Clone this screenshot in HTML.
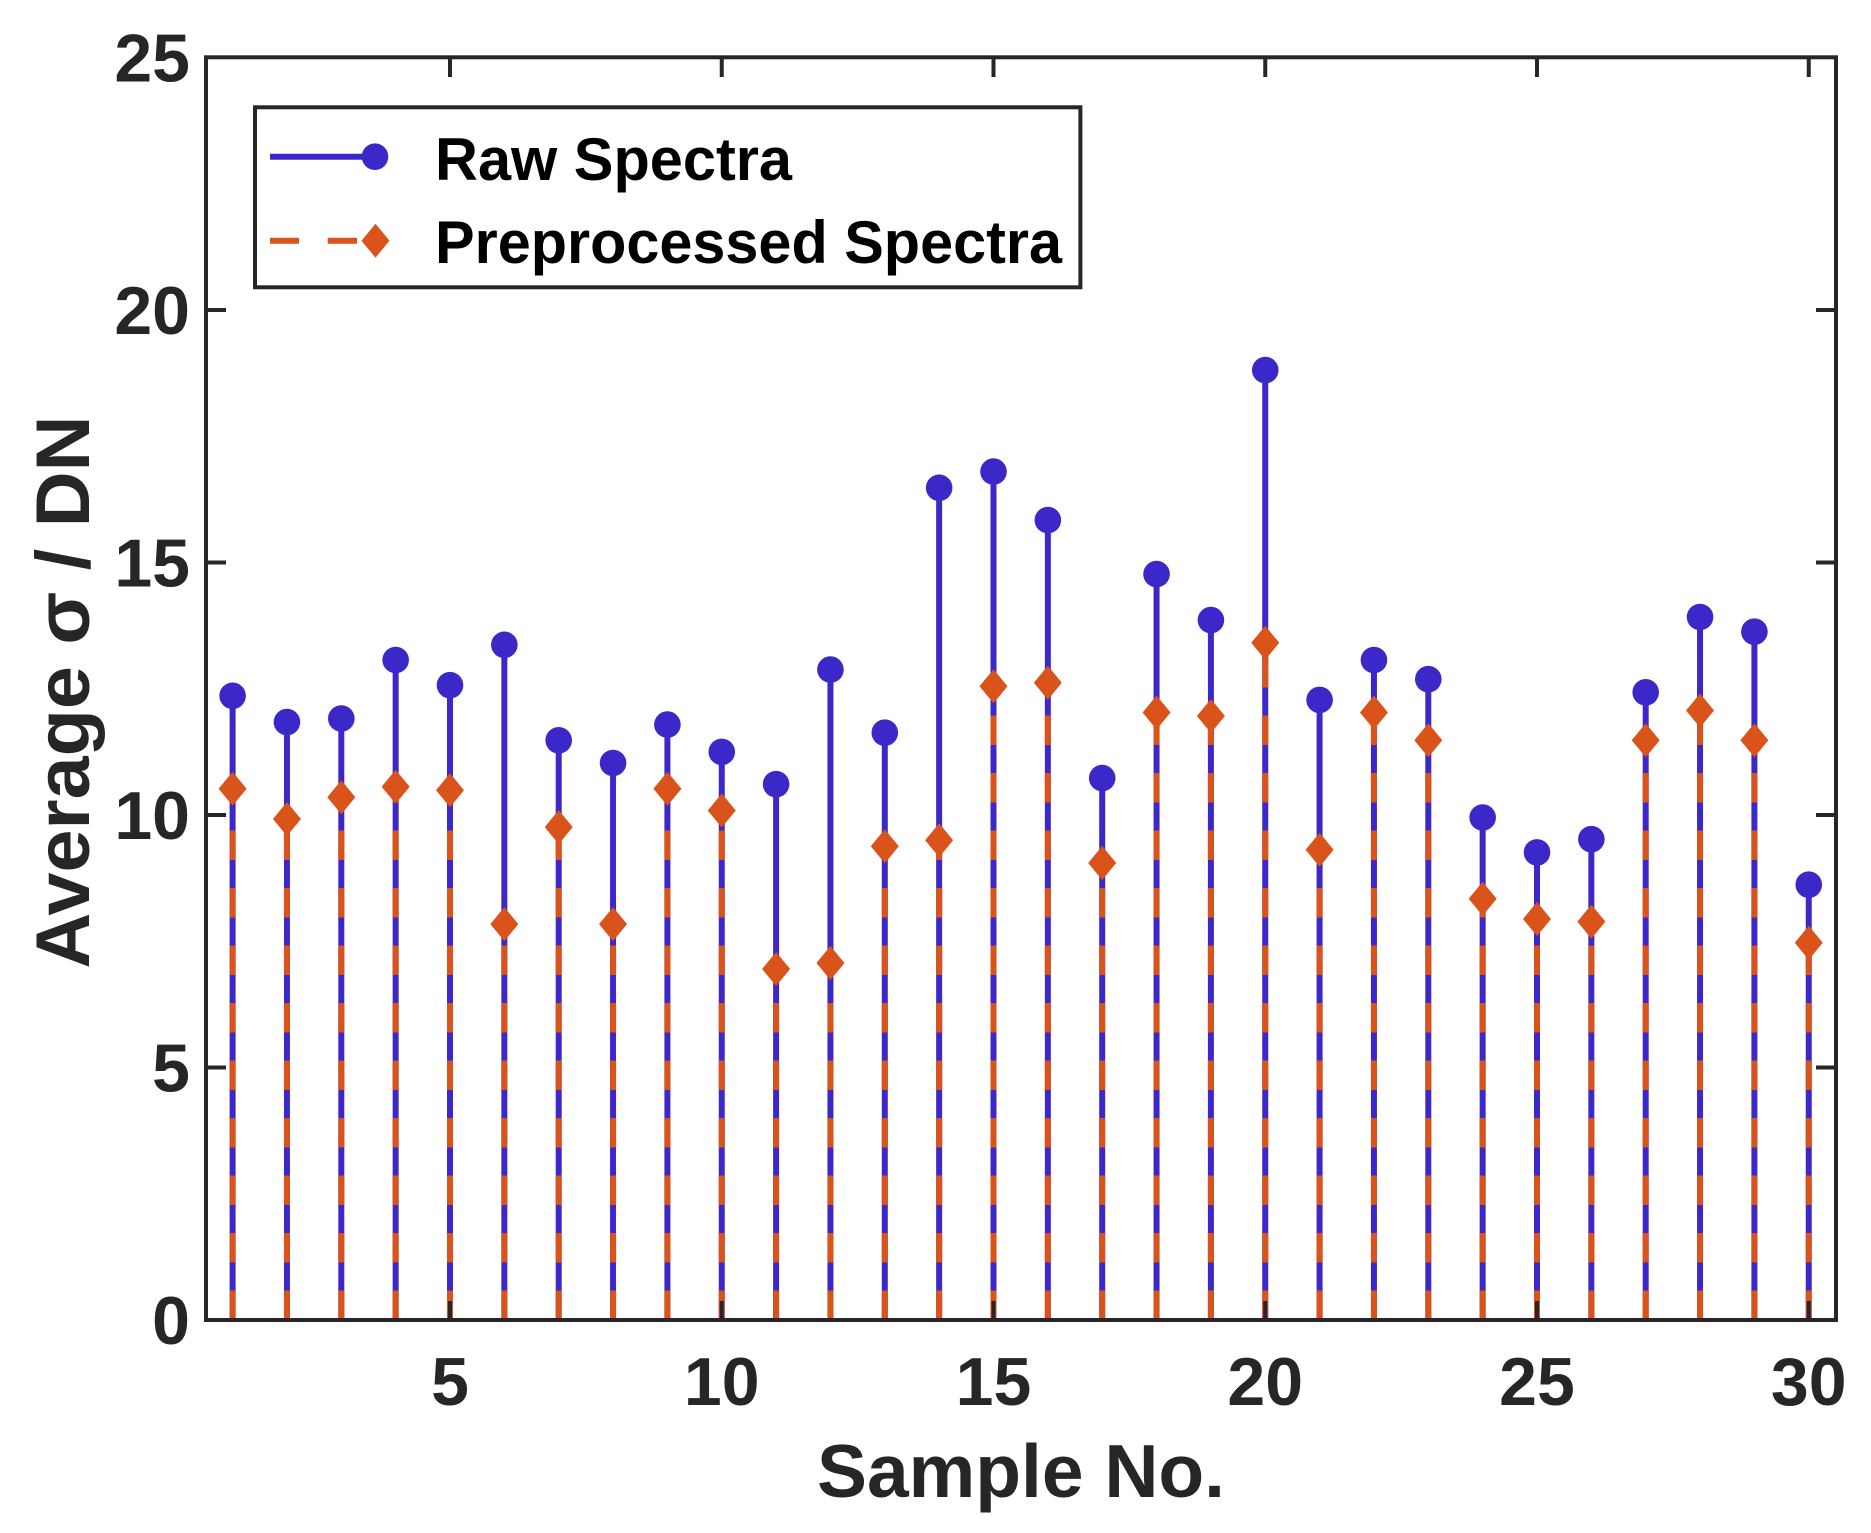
<!DOCTYPE html>
<html>
<head>
<meta charset="utf-8">
<style>
html,body{margin:0;padding:0;background:#fff;}
svg{display:block;}
text{font-family:"Liberation Sans",Arial,sans-serif;font-weight:bold;}
</style>
</head>
<body>
<svg width="1871" height="1533" viewBox="0 0 1871 1533" xmlns="http://www.w3.org/2000/svg">
<rect width="1871" height="1533" fill="#fff"/>

<!-- blue stems -->
<g stroke="#3C28C8" stroke-width="6" fill="none">
<path d="M232.6 1320V695.8M286.95 1320V722.1M341.3 1320V718.5M395.65 1320V660M450 1320V685.2M504.35 1320V644.8M558.7 1320V740.3M613.05 1320V763M667.4 1320V724.6M721.75 1320V751.9M776.1 1320V784.2M830.45 1320V669.6M884.8 1320V732.7M939.15 1320V487.8M993.5 1320V471.6M1047.85 1320V520.1M1102.2 1320V778.1M1156.55 1320V574.1M1210.9 1320V620.1M1265.25 1320V370.1M1319.6 1320V699.9M1373.95 1320V660M1428.3 1320V679.2M1482.65 1320V817.5M1537 1320V852.4M1591.35 1320V839.2M1645.7 1320V692.3M1700.05 1320V617M1754.4 1320V631.7M1808.75 1320V884.7"/>
</g>

<!-- orange dashed stems -->
<g stroke="#D9531A" stroke-width="6" fill="none" stroke-dasharray="29.5 28">
<path d="M232.6 1320V788.7"/><path d="M286.95 1320V819"/><path d="M341.3 1320V797.3"/><path d="M395.65 1320V786.7"/><path d="M450 1320V790.3"/><path d="M504.35 1320V924.1"/><path d="M558.7 1320V827.1"/><path d="M613.05 1320V924.1"/><path d="M667.4 1320V788.7"/><path d="M721.75 1320V810.5"/><path d="M776.1 1320V969"/><path d="M830.45 1320V963"/><path d="M884.8 1320V846.3"/><path d="M939.15 1320V840.3"/><path d="M993.5 1320V686.2"/><path d="M1047.85 1320V682.7"/><path d="M1102.2 1320V863"/><path d="M1156.55 1320V712.5"/><path d="M1210.9 1320V716"/><path d="M1265.25 1320V642.8"/><path d="M1319.6 1320V849.8"/><path d="M1373.95 1320V712.5"/><path d="M1428.3 1320V740.3"/><path d="M1482.65 1320V898.8"/><path d="M1537 1320V919"/><path d="M1591.35 1320V921.6"/><path d="M1645.7 1320V740.3"/><path d="M1700.05 1320V710.5"/><path d="M1754.4 1320V740.3"/><path d="M1808.75 1320V942.8"/>
</g>

<!-- blue circles -->
<g fill="#3C28C8">
<circle cx="232.6" cy="695.8" r="13.3"/><circle cx="286.95" cy="722.1" r="13.3"/><circle cx="341.3" cy="718.5" r="13.3"/><circle cx="395.65" cy="660" r="13.3"/><circle cx="450" cy="685.2" r="13.3"/><circle cx="504.35" cy="644.8" r="13.3"/><circle cx="558.7" cy="740.3" r="13.3"/><circle cx="613.05" cy="763" r="13.3"/><circle cx="667.4" cy="724.6" r="13.3"/><circle cx="721.75" cy="751.9" r="13.3"/><circle cx="776.1" cy="784.2" r="13.3"/><circle cx="830.45" cy="669.6" r="13.3"/><circle cx="884.8" cy="732.7" r="13.3"/><circle cx="939.15" cy="487.8" r="13.3"/><circle cx="993.5" cy="471.6" r="13.3"/><circle cx="1047.85" cy="520.1" r="13.3"/><circle cx="1102.2" cy="778.1" r="13.3"/><circle cx="1156.55" cy="574.1" r="13.3"/><circle cx="1210.9" cy="620.1" r="13.3"/><circle cx="1265.25" cy="370.1" r="13.3"/><circle cx="1319.6" cy="699.9" r="13.3"/><circle cx="1373.95" cy="660" r="13.3"/><circle cx="1428.3" cy="679.2" r="13.3"/><circle cx="1482.65" cy="817.5" r="13.3"/><circle cx="1537" cy="852.4" r="13.3"/><circle cx="1591.35" cy="839.2" r="13.3"/><circle cx="1645.7" cy="692.3" r="13.3"/><circle cx="1700.05" cy="617" r="13.3"/><circle cx="1754.4" cy="631.7" r="13.3"/><circle cx="1808.75" cy="884.7" r="13.3"/>
</g>

<!-- orange diamonds -->
<g fill="#D9531A">
<path d="M232.6 771.7l14 17-14 17-14-17z"/>
<path d="M286.95 802l14 17-14 17-14-17z"/>
<path d="M341.3 780.3l14 17-14 17-14-17z"/>
<path d="M395.65 769.7l14 17-14 17-14-17z"/>
<path d="M450 773.3l14 17-14 17-14-17z"/>
<path d="M504.35 907.1l14 17-14 17-14-17z"/>
<path d="M558.7 810.1l14 17-14 17-14-17z"/>
<path d="M613.05 907.1l14 17-14 17-14-17z"/>
<path d="M667.4 771.7l14 17-14 17-14-17z"/>
<path d="M721.75 793.5l14 17-14 17-14-17z"/>
<path d="M776.1 952l14 17-14 17-14-17z"/>
<path d="M830.45 946l14 17-14 17-14-17z"/>
<path d="M884.8 829.3l14 17-14 17-14-17z"/>
<path d="M939.15 823.3l14 17-14 17-14-17z"/>
<path d="M993.5 669.2l14 17-14 17-14-17z"/>
<path d="M1047.85 665.7l14 17-14 17-14-17z"/>
<path d="M1102.2 846l14 17-14 17-14-17z"/>
<path d="M1156.55 695.5l14 17-14 17-14-17z"/>
<path d="M1210.9 699l14 17-14 17-14-17z"/>
<path d="M1265.25 625.8l14 17-14 17-14-17z"/>
<path d="M1319.6 832.8l14 17-14 17-14-17z"/>
<path d="M1373.95 695.5l14 17-14 17-14-17z"/>
<path d="M1428.3 723.3l14 17-14 17-14-17z"/>
<path d="M1482.65 881.8l14 17-14 17-14-17z"/>
<path d="M1537 902l14 17-14 17-14-17z"/>
<path d="M1591.35 904.6l14 17-14 17-14-17z"/>
<path d="M1645.7 723.3l14 17-14 17-14-17z"/>
<path d="M1700.05 693.5l14 17-14 17-14-17z"/>
<path d="M1754.4 723.3l14 17-14 17-14-17z"/>
<path d="M1808.75 925.8l14 17-14 17-14-17z"/>
</g>

<!-- axes box and ticks -->
<g stroke="#262626" stroke-width="4" fill="none">
<rect x="206" y="57.3" width="1630" height="1262.7"/>
<path d="M450 1320V1301M721.75 1320V1301M993.5 1320V1301M1265.25 1320V1301M1537 1320V1301M1808.75 1320V1301"/>
<path d="M450 57.3V77M721.75 57.3V77M993.5 57.3V77M1265.25 57.3V77M1537 57.3V77M1808.75 57.3V77"/>
<path d="M206 1067.5H226M206 815H226M206 562.5H226M206 310H226"/>
<path d="M1836 1067.5H1816M1836 815H1816M1836 562.5H1816M1836 310H1816"/>
</g>

<!-- tick labels -->
<g fill="#262626" font-size="68">
<text x="190" y="1344" text-anchor="end">0</text>
<text x="190" y="1091.5" text-anchor="end">5</text>
<text x="190" y="839" text-anchor="end">10</text>
<text x="190" y="586.5" text-anchor="end">15</text>
<text x="190" y="334" text-anchor="end">20</text>
<text x="190" y="81.5" text-anchor="end">25</text>
<text x="450" y="1405" text-anchor="middle">5</text>
<text x="721.75" y="1405" text-anchor="middle">10</text>
<text x="993.5" y="1405" text-anchor="middle">15</text>
<text x="1265.25" y="1405" text-anchor="middle">20</text>
<text x="1537" y="1405" text-anchor="middle">25</text>
<text x="1808.75" y="1405" text-anchor="middle">30</text>
</g>

<!-- axis labels -->
<text x="1021" y="1497" text-anchor="middle" font-size="75" fill="#262626" textLength="408" lengthAdjust="spacingAndGlyphs">Sample No.</text>
<text transform="translate(89,692) rotate(-90)" x="0" y="0" text-anchor="middle" font-size="76" fill="#262626" textLength="553" lengthAdjust="spacingAndGlyphs">Average σ / DN</text>

<!-- legend -->
<rect x="255" y="107.3" width="825.4" height="180" fill="#fff" stroke="#262626" stroke-width="4"/>
<line x1="270" y1="156.7" x2="375" y2="156.7" stroke="#3C28C8" stroke-width="6"/>
<circle cx="375" cy="156.7" r="13.3" fill="#3C28C8"/>
<path d="M270 240.7H299M327.7 240.7H357" stroke="#D9531A" stroke-width="6"/>
<path d="M375.5 223.7l14 17-14 17-14-17z" fill="#D9531A"/>
<text x="435" y="180" font-size="60" fill="#000" textLength="357" lengthAdjust="spacingAndGlyphs">Raw Spectra</text>
<text x="435" y="263" font-size="60" fill="#000" textLength="627" lengthAdjust="spacingAndGlyphs">Preprocessed Spectra</text>
</svg>
</body>
</html>
